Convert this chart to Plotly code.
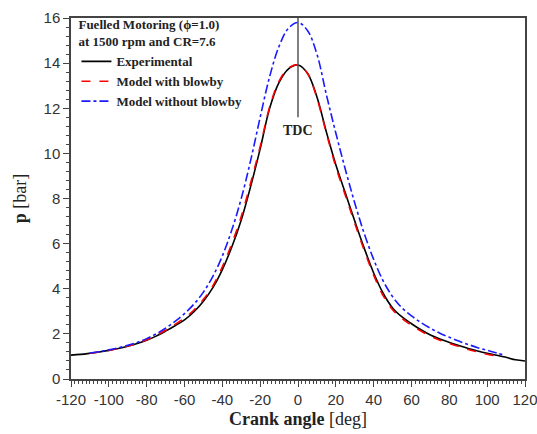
import plotly.graph_objects as go

# Crank angle [deg]
angle_exp = [-120, -115, -110, -105, -100, -95, -90, -85, -80, -75, -70, -65, -60, -55, -50, -45,
             -40, -35, -30, -25, -20, -15, -10, -5, 0, 5, 10, 15, 20, 25, 30, 35, 40, 45, 50, 55,
             60, 65, 70, 75, 80, 85, 90, 95, 100, 105, 110, 115, 120]
p_exp = [1.06, 1.09, 1.14, 1.20, 1.27, 1.35, 1.45, 1.57, 1.72, 1.90, 2.12, 2.36, 2.62, 2.98, 3.45,
         4.05, 4.85, 5.85, 7.05, 8.55, 10.2, 12.0, 13.15, 13.75, 13.92, 13.55, 12.5, 10.95, 9.5,
         8.25, 7.0, 5.8, 4.7, 3.8, 3.15, 2.75, 2.45, 2.18, 1.95, 1.77, 1.62, 1.48, 1.35, 1.24,
         1.14, 1.05, 0.96, 0.85, 0.80]

angle_model = [-110, -105, -100, -95, -90, -85, -80, -75, -70, -65, -60, -55, -50, -45, -40, -35,
               -30, -25, -20, -15, -10, -5, 0, 5, 10, 15, 20, 25, 30, 35, 40, 45, 50, 55, 60, 65,
               70, 75, 80, 85, 90, 95, 100, 105, 108]
p_blowby = [1.14, 1.20, 1.27, 1.36, 1.46, 1.58, 1.74, 1.93, 2.16, 2.42, 2.70, 3.06, 3.53, 4.13,
            4.97, 6.0, 7.2, 8.7, 10.3, 12.05, 13.2, 13.78, 13.92, 13.55, 12.45, 10.9, 9.4, 8.15,
            6.9, 5.7, 4.6, 3.7, 3.07, 2.68, 2.38, 2.12, 1.9, 1.72, 1.57, 1.44, 1.31, 1.2, 1.1,
            1.02, 0.98]
p_noblowby = [1.15, 1.21, 1.29, 1.38, 1.49, 1.62, 1.79, 2.0, 2.25, 2.55, 2.9, 3.32, 3.85, 4.55,
              5.45, 6.6, 8.0, 9.7, 11.6, 13.4, 14.75, 15.55, 15.8, 15.45, 14.4, 12.6, 10.9, 9.3,
              7.8, 6.45, 5.3, 4.35, 3.65, 3.15, 2.8, 2.5, 2.25, 2.03, 1.85, 1.68, 1.53, 1.39,
              1.27, 1.15, 1.08]

x_ticks = list(range(-120, 121, 20))
y_ticks = list(range(0, 17, 2))

serif = "Liberation Serif"
sans = "Liberation Sans"

fig = go.Figure()
fig.add_trace(go.Scatter(x=angle_exp, y=p_exp, mode="lines", name="<b>Experimental</b>",
                         line=dict(color="black", width=1.6, shape="spline")))
fig.add_trace(go.Scatter(x=angle_model, y=p_blowby, mode="lines", name="<b>Model with blowby</b>",
                         line=dict(color="#ff0000", width=1.6, dash="dash", shape="spline")))
fig.add_trace(go.Scatter(x=angle_model, y=p_noblowby, mode="lines", name="<b>Model without blowby</b>",
                         line=dict(color="#1a1aff", width=1.6, dash="dashdot", shape="spline")))

fig.add_shape(type="line", x0=0, x1=0, y0=11.6, y1=16, xref="x", yref="y",
              line=dict(color="#555555", width=1.5))
fig.add_annotation(x=0, y=11.0, text="<b>TDC</b>", showarrow=False,
                   font=dict(family=serif, size=14, color="#222"))

fig.update_layout(
    width=537, height=434,
    margin=dict(l=71, r=12, t=18, b=55),
    paper_bgcolor="white", plot_bgcolor="white",
    showlegend=True,
    legend=dict(x=0.012, y=1.015, xanchor="left", yanchor="top",
                bgcolor="rgba(0,0,0,0)", borderwidth=0,
                font=dict(family=serif, size=13, color="#222"),
                title=dict(text="<b>Fuelled Motoring (ϕ=1.0)<br>at 1500 rpm and CR=7.6</b>",
                           font=dict(family=serif, size=13, color="#222")),
                tracegroupgap=0, itemwidth=30),
)

fig.update_xaxes(range=[-120, 120], tickvals=x_ticks, ticktext=[str(v) for v in x_ticks],
                 automargin=False, ticklabeloverflow="allow",
                 showgrid=False, zeroline=False, showline=True, mirror=True,
                 linecolor="#444", linewidth=1.5,
                 ticks="outside", ticklen=6, tickwidth=1.2, tickcolor="#444",
                 minor=dict(dtick=2, ticks="outside", ticklen=3, tickwidth=1, tickcolor="#444"),
                 tickfont=dict(family=sans, size=15, color="#333"),
                 title=dict(text="<b>Crank angle</b> [deg]", font=dict(family=serif, size=18, color="#222"),
                            standoff=6))
fig.update_yaxes(range=[0, 16], tickvals=y_ticks, ticktext=[str(v) for v in y_ticks],
                 automargin=False, ticklabeloverflow="allow",
                 showgrid=False, zeroline=False, showline=True, mirror=True,
                 linecolor="#444", linewidth=1.5,
                 ticks="outside", ticklen=6, tickwidth=1.2, tickcolor="#444",
                 minor=dict(dtick=0.4, ticks="outside", ticklen=3, tickwidth=1, tickcolor="#444"),
                 tickfont=dict(family=sans, size=15, color="#333"),
                 title=dict(text="<b>p</b> [bar]", font=dict(family=serif, size=18, color="#222"),
                            standoff=12))

fig.write_html("out.html")
